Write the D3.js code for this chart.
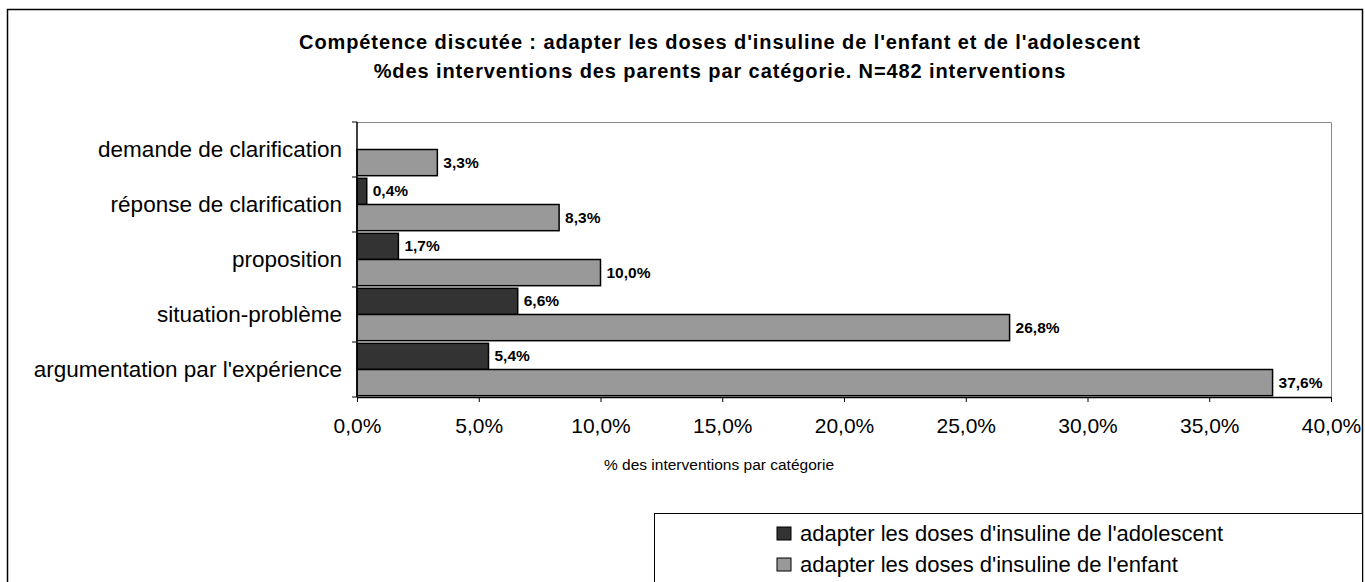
<!DOCTYPE html>
<html lang="fr">
<head>
  <meta charset="UTF-8">
  <title>Compétence discutée</title>
  <script src="https://d3js.org/d3.v7.min.js"></script>
  <style>
    body { margin: 0; background: #fff; }
    svg { font-family: "Liberation Sans", Arial, sans-serif; }
  </style>
</head>
<body>
  <div id="chart"></div>
  <script>
    // Data
    const categories = ["demande de clarification", "réponse de clarification", "proposition", "situation-problème", "argumentation par l'expérience"];
    const seriesNames = ["adapter les doses d'insuline de l'adolescent", "adapter les doses d'insuline de l'enfant"];
    const adolescent = [null, 0.4, 1.7, 6.6, 5.4];
    const enfant = [3.3, 8.3, 10.0, 26.8, 37.6];
    const xTicks = [0, 5, 10, 15, 20, 25, 30, 35, 40];
    const seriesColors = ["#333333", "#999999"];

    const W = 1365, H = 582;
    const plot = { left: 357, right: 1331, top: 122, bottom: 397 };

    const fr = d3.formatLocale({ decimal: ",", thousands: " ", grouping: [3], currency: ["", " €"] });
    const fmt = v => fr.format(".1f")(v) + "%";

    const svg = d3.select("#chart").append("svg")
      .attr("width", W).attr("height", H);

    // outer frame
    svg.append("rect")
      .attr("x", 7.5).attr("y", 9.5).attr("width", 1355).attr("height", 600)
      .attr("fill", "#fff").attr("stroke", "#000").attr("stroke-width", 1.5);

    // title
    const title = svg.append("text")
      .attr("text-anchor", "middle").attr("font-weight", "bold")
      .attr("font-size", 20).attr("letter-spacing", 0.9);
    title.append("tspan").attr("x", 720).attr("y", 49)
      .text("Compétence discutée : adapter les doses d'insuline de l'enfant et de l'adolescent");
    title.append("tspan").attr("x", 720).attr("y", 78)
      .text("%des interventions des parents par catégorie. N=482 interventions");

    const x = d3.scaleLinear().domain([0, 40]).range([plot.left, plot.right]);
    const y = d3.scaleBand().domain(categories).range([plot.top, plot.bottom]);
    const sub = d3.scaleBand().domain([0, 1]).range([0, y.bandwidth()]).paddingOuter(0.05);

    // plot area border (top and right, grey)
    svg.append("path")
      .attr("d", `M${plot.left},${plot.top + 0.5}H${plot.right + 0.5}V${plot.bottom}`)
      .attr("fill", "none").attr("stroke", "#888").attr("stroke-width", 1);

    const rows = categories.map((c, i) => ({ cat: c, vals: [adolescent[i], enfant[i]] }));

    const groups = svg.selectAll(".row").data(rows).enter().append("g")
      .attr("transform", d => `translate(0,${y(d.cat)})`);

    const bars = groups.selectAll(".bar")
      .data(d => d.vals.map((v, s) => ({ v, s })).filter(e => e.v !== null))
      .enter();

    bars.append("rect")
      .attr("x", x(0))
      .attr("y", d => sub(d.s))
      .attr("width", d => x(d.v) - x(0))
      .attr("height", sub.bandwidth())
      .attr("fill", d => seriesColors[d.s])
      .attr("stroke", "#000").attr("stroke-width", 1.5);

    bars.append("text")
      .attr("x", d => x(d.v) + 6)
      .attr("y", d => sub(d.s) + sub.bandwidth() / 2 + 5)
      .attr("font-size", 15.5).attr("font-weight", "bold")
      .text(d => fmt(d.v));

    // y axis
    const yAxis = svg.append("g")
      .attr("transform", `translate(${plot.left},0)`)
      .call(d3.axisLeft(y).tickSize(0).tickPadding(15));
    yAxis.select(".domain").remove();
    yAxis.selectAll("text").attr("font-size", 22.5).attr("fill", "#000")
      .attr("font-family", "Liberation Sans, Arial, sans-serif");
    // band boundary ticks
    svg.append("g").selectAll("line")
      .data(categories.concat([null]))
      .enter().append("line")
      .attr("x1", plot.left - 5).attr("x2", plot.left)
      .attr("y1", (d, i) => plot.top + i * y.step())
      .attr("y2", (d, i) => plot.top + i * y.step())
      .attr("stroke", "#000");
    svg.append("line")
      .attr("x1", plot.left).attr("x2", plot.left)
      .attr("y1", plot.top).attr("y2", plot.bottom)
      .attr("stroke", "#000").attr("stroke-width", 1.5);

    // x axis
    const xAxis = svg.append("g")
      .attr("transform", `translate(0,${plot.bottom})`)
      .call(d3.axisBottom(x).tickValues(xTicks).tickSize(5).tickSizeOuter(0).tickPadding(16).tickFormat(fmt));
    xAxis.select(".domain").attr("stroke-width", 1.5);
    xAxis.selectAll("text").attr("font-size", 21).attr("fill", "#000")
      .attr("font-family", "Liberation Sans, Arial, sans-serif");

    svg.append("text")
      .attr("x", 719).attr("y", 470).attr("text-anchor", "middle")
      .attr("font-size", 15.5)
      .text("% des interventions par catégorie");

    // legend
    svg.append("rect")
      .attr("x", 654.5).attr("y", 513.5).attr("width", 708).attr("height", 100)
      .attr("fill", "#fff").attr("stroke", "#000").attr("stroke-width", 1);
    const leg = svg.selectAll(".leg").data(seriesNames).enter().append("g")
      .attr("transform", (d, i) => `translate(777,${527 + i * 31})`);
    leg.append("rect")
      .attr("width", 14).attr("height", 13)
      .attr("fill", (d, i) => seriesColors[i]).attr("stroke", "#000");
    leg.append("text")
      .attr("x", 23).attr("y", 14)
      .attr("font-size", 22)
      .text(d => d);
  </script>
</body>
</html>
